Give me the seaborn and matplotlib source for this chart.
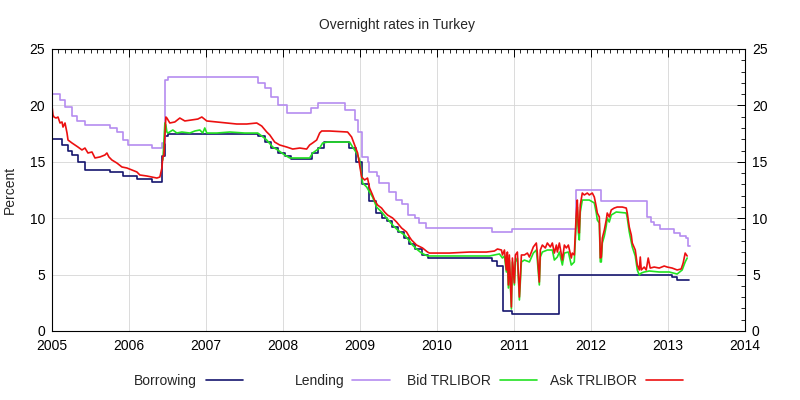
import matplotlib
matplotlib.use("Agg")
import matplotlib.pyplot as plt
from matplotlib.ticker import MultipleLocator
import seaborn as sns

# ---------------- data ----------------
borrow_t = [2005.00, 2005.13, 2005.21, 2005.26, 2005.34, 2005.43, 2005.75, 2005.92, 2006.11,
            2006.30, 2006.43, 2006.47, 2006.50, 2007.67, 2007.76, 2007.85, 2007.93, 2008.03,
            2008.11, 2008.38, 2008.45, 2008.53, 2008.86, 2008.95, 2009.03, 2009.12, 2009.21,
            2009.28, 2009.35, 2009.42, 2009.49, 2009.57, 2009.64, 2009.72, 2009.80, 2009.88,
            2010.71, 2010.78, 2010.86, 2010.98, 2011.58, 2013.05, 2013.12, 2013.27]
borrow_v = [17.0, 16.5, 16.0, 15.6, 15.0, 14.3, 14.1, 13.7, 13.5,
            13.25, 15.5, 17.25, 17.5, 17.25, 16.75, 16.25, 15.75, 15.5,
            15.25, 15.75, 16.25, 16.75, 16.25, 15.0, 13.0, 11.5, 10.5,
            10.0, 9.75, 9.25, 8.75, 8.25, 7.75, 7.25, 6.75, 6.5,
            6.25, 5.75, 1.75, 1.5, 5.0, 4.75, 4.5, 4.5]

lend_t = [2005.00, 2005.10, 2005.17, 2005.26, 2005.32, 2005.43, 2005.75, 2005.84, 2005.92,
          2005.99, 2006.30, 2006.43, 2006.47, 2006.50, 2007.67, 2007.76, 2007.85, 2007.93,
          2008.05, 2008.37, 2008.45, 2008.80, 2008.93, 2008.97, 2009.02, 2009.10, 2009.12,
          2009.22, 2009.25, 2009.38, 2009.47, 2009.55, 2009.62, 2009.71, 2009.77, 2009.86,
          2010.72, 2010.97, 2011.80, 2012.13, 2012.73, 2012.78, 2012.82, 2012.89, 2013.08,
          2013.16, 2013.24, 2013.26, 2013.28]
lend_v = [21.0, 20.5, 19.9, 19.1, 18.6, 18.3, 18.0, 17.6, 16.9,
          16.5, 16.2, 16.7, 22.25, 22.5, 22.0, 21.5, 20.75, 20.0,
          19.3, 19.75, 20.25, 19.6, 18.7, 17.6, 15.4, 15.0, 14.1,
          13.7, 13.1, 12.3, 11.6, 11.3, 10.3, 10.0, 9.6, 9.1,
          8.75, 9.0, 12.5, 11.5, 10.1, 9.7, 9.4, 9.0, 8.7,
          8.4, 8.25, 7.5, 7.5]

bid_t = [2006.440, 2006.466, 2006.479, 2006.492, 2006.505, 2006.569, 2006.621, 2006.686, 2006.790,
         2006.855, 2006.920, 2006.958, 2006.984, 2007.010, 2007.140, 2007.309, 2007.503, 2007.672,
         2007.724, 2007.789, 2007.866, 2007.931, 2008.022, 2008.087, 2008.346, 2008.385, 2008.476,
         2008.515, 2008.580, 2008.865, 2008.904, 2008.956, 2008.995, 2009.034, 2009.086, 2009.124,
         2009.163, 2009.215, 2009.280, 2009.345, 2009.423, 2009.488, 2009.578, 2009.643, 2009.669,
         2009.734, 2009.799, 2009.877, 2010.681, 2010.746, 2010.811, 2010.850, 2010.876, 2010.901,
         2010.914, 2010.927, 2010.940, 2010.966, 2010.979, 2011.005, 2011.018, 2011.044, 2011.070,
         2011.096, 2011.135, 2011.200, 2011.251, 2011.290, 2011.303, 2011.329, 2011.342, 2011.368,
         2011.433, 2011.498, 2011.524, 2011.563, 2011.589, 2011.628, 2011.654, 2011.706, 2011.744,
         2011.783, 2011.809, 2011.822, 2011.835, 2011.848, 2011.861, 2011.887, 2011.978, 2012.043,
         2012.069, 2012.082, 2012.108, 2012.121, 2012.134, 2012.147, 2012.173, 2012.198, 2012.211,
         2012.237, 2012.263, 2012.328, 2012.458, 2012.471, 2012.497, 2012.536, 2012.575, 2012.601,
         2012.627, 2012.653, 2012.691, 2012.756, 2012.886, 2013.016, 2013.119, 2013.184, 2013.223,
         2013.249]
bid_v = [15.16, 18.44, 18.26, 17.64, 17.55, 17.82, 17.55, 17.64, 17.55,
         17.73, 17.82, 17.55, 18.00, 17.55, 17.55, 17.64, 17.55, 17.55,
         17.29, 16.93, 16.31, 16.05, 15.60, 15.34, 15.34, 15.78, 16.22,
         16.67, 16.75, 16.75, 16.31, 15.78, 15.16, 13.12, 12.77, 12.32,
         11.88, 10.99, 10.55, 10.02, 9.40, 8.95, 8.51, 7.98, 7.71,
         7.27, 6.91, 6.65, 6.65, 6.74, 6.83, 6.47, 6.65, 5.23,
         6.47, 3.81, 6.29, 1.95, 6.12, 4.08, 6.12, 6.47, 2.75,
         6.12, 6.29, 6.12, 6.91, 7.18, 6.29, 4.08, 6.56, 7.00,
         7.18, 7.18, 6.29, 6.56, 7.00, 5.85, 6.91, 7.00, 5.85,
         6.12, 9.84, 10.99, 8.78, 8.07, 10.55, 11.61, 11.61, 11.35,
         10.46, 9.84, 9.57, 6.12, 6.12, 7.80, 8.42, 9.31, 10.02,
         9.66, 10.28, 10.55, 10.46, 10.02, 8.78, 7.45, 6.65, 5.41,
         4.96, 5.14, 5.23, 5.32, 5.23, 5.23, 5.05, 5.41, 6.12,
         6.47]

ask_t = [2005.000, 2005.013, 2005.026, 2005.052, 2005.078, 2005.104, 2005.130, 2005.143, 2005.169,
         2005.195, 2005.208, 2005.259, 2005.298, 2005.337, 2005.389, 2005.428, 2005.467, 2005.519,
         2005.558, 2005.623, 2005.687, 2005.713, 2005.739, 2005.778, 2005.843, 2005.908, 2005.973,
         2006.038, 2006.102, 2006.141, 2006.232, 2006.297, 2006.362, 2006.401, 2006.427, 2006.440,
         2006.453, 2006.479, 2006.492, 2006.530, 2006.595, 2006.660, 2006.725, 2006.816, 2006.894,
         2006.946, 2007.010, 2007.140, 2007.270, 2007.399, 2007.529, 2007.659, 2007.724, 2007.789,
         2007.828, 2007.892, 2007.957, 2008.048, 2008.126, 2008.217, 2008.307, 2008.346, 2008.385,
         2008.437, 2008.476, 2008.502, 2008.606, 2008.839, 2008.891, 2008.930, 2008.969, 2009.021,
         2009.060, 2009.098, 2009.124, 2009.163, 2009.189, 2009.228, 2009.280, 2009.319, 2009.358,
         2009.423, 2009.475, 2009.540, 2009.604, 2009.643, 2009.669, 2009.734, 2009.812, 2009.877,
         2009.903, 2010.162, 2010.421, 2010.642, 2010.746, 2010.785, 2010.837, 2010.850, 2010.876,
         2010.901, 2010.914, 2010.927, 2010.940, 2010.966, 2010.979, 2011.005, 2011.018, 2011.044,
         2011.070, 2011.096, 2011.135, 2011.174, 2011.200, 2011.226, 2011.251, 2011.290, 2011.303,
         2011.329, 2011.342, 2011.368, 2011.407, 2011.433, 2011.472, 2011.498, 2011.524, 2011.550,
         2011.563, 2011.589, 2011.628, 2011.654, 2011.680, 2011.706, 2011.744, 2011.757, 2011.783,
         2011.809, 2011.822, 2011.835, 2011.848, 2011.861, 2011.887, 2011.913, 2011.952, 2011.978,
         2012.017, 2012.043, 2012.069, 2012.082, 2012.108, 2012.121, 2012.134, 2012.147, 2012.173,
         2012.198, 2012.211, 2012.237, 2012.263, 2012.302, 2012.341, 2012.406, 2012.458, 2012.471,
         2012.497, 2012.523, 2012.536, 2012.575, 2012.601, 2012.627, 2012.640, 2012.653, 2012.691,
         2012.717, 2012.743, 2012.769, 2012.821, 2012.886, 2012.951, 2012.990, 2013.054, 2013.119,
         2013.171, 2013.197, 2013.223, 2013.249]
ask_v = [19.95, 19.15, 18.97, 18.88, 18.97, 18.44, 18.53, 18.08, 18.44,
         17.55, 16.93, 16.67, 16.49, 16.31, 16.05, 16.22, 15.78, 15.87,
         15.34, 15.43, 15.60, 15.78, 15.43, 15.16, 14.89, 14.54, 14.45,
         14.27, 14.10, 13.83, 13.74, 13.65, 13.56, 13.65, 14.45, 15.51,
         15.51, 18.97, 18.88, 18.44, 18.53, 18.88, 18.62, 18.71, 18.79,
         18.97, 18.62, 18.53, 18.44, 18.35, 18.35, 18.44, 18.17, 17.64,
         17.38, 16.75, 16.49, 16.31, 16.13, 16.22, 16.13, 16.49, 16.67,
         16.93, 17.55, 17.73, 17.73, 17.64, 17.20, 16.49, 15.78, 13.65,
         13.39, 13.56, 12.68, 12.06, 11.61, 11.17, 10.90, 10.55, 10.28,
         10.02, 9.66, 9.13, 8.78, 8.33, 8.07, 7.62, 7.36, 7.00,
         6.91, 6.91, 7.00, 7.00, 7.09, 7.27, 7.18, 6.74, 7.18,
         5.41, 7.00, 4.08, 6.74, 2.13, 6.47, 4.26, 6.74, 7.00,
         3.01, 6.74, 6.74, 6.91, 6.56, 7.00, 7.45, 7.80, 6.91,
         4.34, 7.18, 7.62, 7.36, 7.80, 7.45, 7.80, 6.91, 7.62,
         7.00, 7.80, 6.29, 7.62, 7.36, 7.62, 6.47, 6.91, 6.74,
         10.46, 11.61, 9.40, 8.69, 11.17, 12.23, 12.06, 12.23, 12.06,
         12.23, 11.88, 10.99, 10.46, 10.11, 6.47, 6.56, 8.24, 8.95,
         9.84, 10.46, 10.11, 10.73, 10.90, 10.99, 10.99, 10.90, 10.46,
         9.22, 8.51, 7.80, 7.18, 5.85, 5.41, 6.56, 5.41, 5.67,
         5.41, 6.47, 5.58, 5.67, 5.58, 5.76, 5.67, 5.58, 5.41,
         5.50, 6.03, 6.91, 6.65]

series_names = ["Borrowing", "Lending", "Bid TRLIBOR", "Ask TRLIBOR"]
year_ticks = list(range(2005, 2015))
pct_ticks = [0, 5, 10, 15, 20, 25]

# ---------------- style ----------------
sns.set_theme(style="white")
plt.rcParams["font.family"] = ["Liberation Sans", "DejaVu Sans"]
plt.rcParams["font.size"] = 10

colors = {"Borrowing": "#15156e", "Lending": "#b58cf0",
          "Bid TRLIBOR": "#22e222", "Ask TRLIBOR": "#ec1010"}

fig = plt.figure(figsize=(8, 4), dpi=100)
fig.patch.set_facecolor("white")
ax = fig.add_axes([52 / 800, 1 - 331 / 400, (745 - 52) / 800, (331 - 49) / 400])
ax.set_facecolor("white")

lw = 1.2
sns.lineplot(x=borrow_t, y=borrow_v, ax=ax, color=colors["Borrowing"], lw=lw,
             drawstyle="steps-post", estimator=None, sort=False, label=series_names[0])
sns.lineplot(x=lend_t, y=lend_v, ax=ax, color=colors["Lending"], lw=lw,
             drawstyle="steps-post", estimator=None, sort=False, label=series_names[1])
sns.lineplot(x=bid_t, y=bid_v, ax=ax, color=colors["Bid TRLIBOR"], lw=lw,
             estimator=None, sort=False, label=series_names[2])
sns.lineplot(x=ask_t, y=ask_v, ax=ax, color=colors["Ask TRLIBOR"], lw=lw,
             estimator=None, sort=False, label=series_names[3])

handles, labels = ax.get_legend_handles_labels()
if ax.get_legend() is not None:
    ax.get_legend().remove()

ax.set_xlim(2005, 2014)
ax.set_ylim(0, 25)
ax.set_xticks(year_ticks)
ax.set_xticklabels([str(y) for y in year_ticks])
ax.set_yticks(pct_ticks)
ax.xaxis.set_minor_locator(MultipleLocator(1 / 12))
ax.yaxis.set_minor_locator(MultipleLocator(1))
ax.grid(True, which="major", color="#d6d6d6", linewidth=0.6)
ax.set_axisbelow(True)
for s in ax.spines.values():
    s.set_color("black")
    s.set_linewidth(0.8)
ax.tick_params(which="both", direction="in", top=True, right=True,
               labelright=True, colors="black", labelsize=10)
ax.tick_params(which="major", length=6, width=0.7)
ax.tick_params(which="minor", length=3, width=0.6)
ax.tick_params(axis="x", pad=6)
ax.tick_params(axis="y", pad=5)
ax.set_xlabel("")
ax.set_ylabel("Percent", fontsize=10, labelpad=9)

fig.text(397 / 800, 1 - 25 / 400, "Overnight rates in Turkey", ha="center",
         va="center", fontsize=10)

# legend: label followed by sample, gnuplot style
ends = [243, 390, 537, 683]
for h, lab, xe in zip(handles, labels, ends):
    fig.legend([h], [lab], loc="center right", bbox_to_anchor=(xe / 800, 1 - 381 / 400),
               markerfirst=False, frameon=False, fontsize=10, handlelength=2.7,
               handletextpad=0.6, borderpad=0, borderaxespad=0)

fig.savefig("out.png", dpi=100, facecolor="white")
